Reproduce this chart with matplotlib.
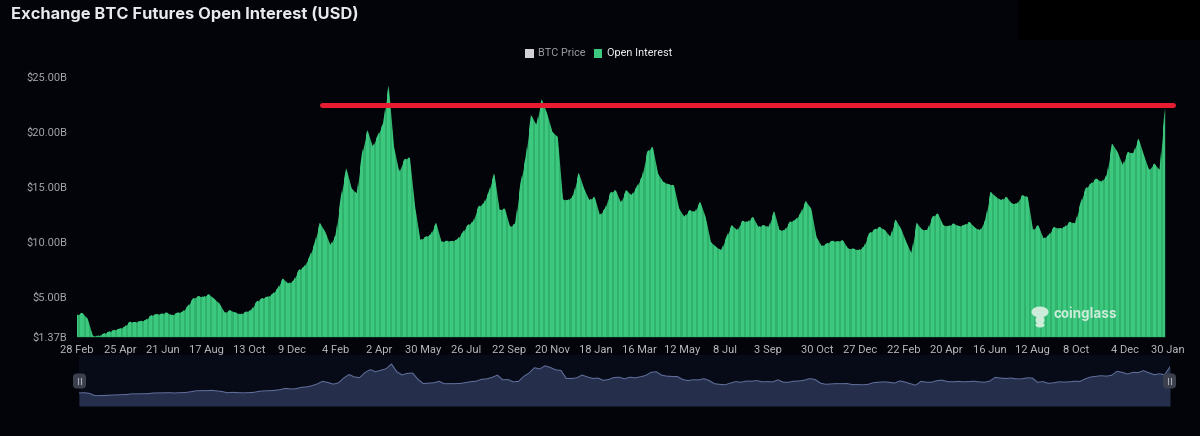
import matplotlib
matplotlib.use("Agg")
import matplotlib.pyplot as plt
from matplotlib.patches import Rectangle, FancyBboxPatch, Ellipse
import numpy as np

plt.rcParams['font.family'] = ['Roboto', 'DejaVu Sans']

W, H = 1200, 436

open_interest = [
    3.33, 3.55, 3.03, 1.45, 1.45, 1.64, 1.82, 1.97, 2.09, 2.27,
    2.73, 2.70, 2.79, 2.88, 3.30, 3.42, 3.45, 3.58, 3.33, 3.55,
    3.64, 4.15, 4.85, 5.06, 5.00, 5.24, 4.82, 4.39, 3.55, 3.79,
    3.58, 3.42, 3.64, 3.79, 4.55, 4.85, 5.00, 5.24, 5.76, 6.67,
    6.21, 6.45, 7.42, 7.73, 8.58, 9.85, 11.73, 10.91, 9.70, 10.61,
    14.09, 16.67, 14.85, 14.39, 18.03, 20.15, 18.64, 19.70, 20.76, 24.18,
    18.64, 16.36, 17.48, 17.67, 13.18, 10.15, 10.45, 10.67, 11.73, 10.00,
    10.09, 10.06, 10.21, 10.82, 11.52, 11.82, 13.18, 13.48, 14.55, 16.21,
    12.88, 13.03, 11.36, 11.67, 15.30, 17.73, 21.52, 20.61, 22.94, 21.67,
    20.00, 19.55, 13.85, 13.79, 14.24, 16.27, 14.85, 13.79, 14.09, 12.42,
    13.03, 14.45, 14.70, 13.55, 14.70, 14.24, 15.00, 15.91, 18.18, 18.64,
    16.21, 15.45, 15.24, 15.15, 13.03, 12.27, 12.88, 12.73, 13.64, 12.27,
    10.00, 9.55, 9.24, 10.45, 11.52, 11.06, 11.91, 11.82, 12.27, 11.36,
    11.52, 11.36, 12.79, 11.06, 11.06, 11.82, 11.97, 12.58, 13.70, 13.03,
    10.45, 9.61, 9.85, 10.09, 10.03, 10.15, 9.39, 9.39, 9.24, 9.55,
    10.76, 11.12, 11.36, 11.06, 10.45, 12.03, 11.21, 10.00, 8.94, 11.73,
    11.12, 11.06, 12.27, 12.58, 11.52, 11.42, 11.67, 11.42, 11.52, 11.82,
    11.30, 11.06, 11.97, 14.55, 14.09, 13.79, 14.09, 13.48, 13.48, 14.24,
    14.09, 11.06, 11.52, 10.30, 10.61, 11.36, 11.21, 11.36, 11.82, 11.67,
    13.48, 14.85, 15.30, 15.76, 15.45, 16.06, 18.94, 18.18, 16.97, 18.18,
    18.03, 19.39, 17.88, 16.52, 17.12, 16.52, 22.12,
]
y_ticks = [1.37, 5, 10, 15, 20, 25]
y_labels = ['$1.37B', '$5.00B', '$10.00B', '$15.00B', '$20.00B', '$25.00B']
x_tick_pos = [-0.44, 7.71, 15.87, 24.03, 32.18, 40.34, 48.59, 56.84, 65.0, 73.16,
              81.31, 89.66, 97.81, 105.97, 114.13, 122.28, 130.44, 139.73, 147.89,
              156.05, 164.2, 172.36, 180.52, 188.67, 197.97, 206.12]
x_labels = ['28 Feb', '25 Apr', '21 Jun', '17 Aug', '13 Oct', '9 Dec', '4 Feb', '2 Apr',
            '30 May', '26 Jul', '22 Sep', '20 Nov', '18 Jan', '16 Mar', '12 May', '8 Jul',
            '3 Sep', '30 Oct', '27 Dec', '22 Feb', '20 Apr', '16 Jun', '12 Aug', '8 Oct',
            '4 Dec', '30 Jan']
resistance_level = 22.42
resistance_span = [46.4, 207.5]

BG = '#03040A'
fig = plt.figure(figsize=(W / 100, H / 100), dpi=100, facecolor=BG)


def axes_px(l, t, r, b):
    return fig.add_axes([l / W, 1 - b / H, (r - l) / W, (b - t) / H])


# top-right masked block
fig.add_artist(Rectangle((1018 / W, 1 - 40 / H), 182 / W, 40 / H, transform=fig.transFigure,
                         facecolor='#000000', edgecolor='none'))

ax = axes_px(76.7, 76.7, 1168, 336.7)
ax.set_facecolor('none')
xs = np.arange(len(open_interest))
area = ax.fill_between(xs, open_interest, y_ticks[0], color='#30B26C', linewidth=0)
stripes = ax.bar(xs, [y_ticks[-1]] * len(xs), width=0.6, color='#3CC97F', linewidth=0)
for bar in stripes:
    bar.set_clip_path(area.get_paths()[0], area.get_transform())
ax.set_xlim(0, len(open_interest) - 1)
ax.set_ylim(y_ticks[0], y_ticks[-1])
for s in ax.spines.values():
    s.set_visible(False)
ax.set_yticks(y_ticks, y_labels, color='#A3A5AB', fontsize=8)
ax.set_xticks([p + 0.5 for p in x_tick_pos], x_labels, color='#B4B6BB', fontsize=8)
ax.tick_params(axis='both', length=0)
ax.tick_params(axis='y', pad=7)
ax.tick_params(axis='x', pad=6)
ax.plot(resistance_span, [resistance_level] * 2, color='#E81C30', lw=3.6,
        solid_capstyle='round', clip_on=False, zorder=5)

# navigator
nav = axes_px(79, 355, 1170, 406)
nav.set_facecolor('#070B18')
nav.fill_between(xs, open_interest, -6, color='#252E4B', linewidth=0)
nav.plot(xs, open_interest, color='#5F6E9A', lw=0.8)
nav.set_xlim(0, len(open_interest) - 1)
nav.set_ylim(-6, 30.7)
nav.set_xticks([])
nav.set_yticks([])
for s in nav.spines.values():
    s.set_visible(False)

overlay = fig.add_axes([0, 0, 1, 1], facecolor='none')
overlay.set_xlim(0, W)
overlay.set_ylim(H, 0)
overlay.axis('off')

# navigator handles
for hx in (79.5, 1169.5):
    overlay.add_patch(FancyBboxPatch((hx - 4.5, 375.5), 9, 11,
                                     boxstyle='round,pad=2,rounding_size=4',
                                     facecolor='#3C3F4E', edgecolor='none'))
    overlay.plot([hx - 1.3, hx - 1.3], [378, 384], color='#A8AAB3', lw=0.8)
    overlay.plot([hx + 1.3, hx + 1.3], [378, 384], color='#A8AAB3', lw=0.8)

# legend
overlay.add_patch(Rectangle((525, 49.3), 8.6, 8.6, facecolor='#D2D2D6', edgecolor='none'))
overlay.text(538, 53.4, 'BTC Price', color='#9B9DA3', fontsize=7.8, va='center', ha='left')
overlay.add_patch(Rectangle((593.6, 49.3), 8.6, 8.6, facecolor='#3CC97F', edgecolor='none'))
overlay.text(607, 53.4, 'Open Interest', color='#F2F2F4', fontsize=7.8, va='center', ha='left')

# title
overlay.text(11, 14.5, 'Exchange BTC Futures Open Interest (USD)', color='#E8E9EC',
             fontsize=11.9, fontweight='bold', family=['Inter', 'DejaVu Sans'],
             va='center', ha='left')

# watermark
WM = '#CDEBD9'
overlay.add_patch(Ellipse((1040, 312), 17, 11, facecolor=WM, edgecolor='none', zorder=6))
overlay.add_patch(Ellipse((1040, 320), 9, 9, facecolor=WM, edgecolor='none', zorder=6))
overlay.add_patch(Ellipse((1040, 325), 9, 5, facecolor=WM, edgecolor='none', zorder=6))
overlay.text(1054, 314, 'coinglass', color=WM, fontsize=9.7, fontweight='bold',
             family=['Inter', 'DejaVu Sans'], va='center', ha='left', zorder=6)

fig.savefig('out.png', dpi=100, facecolor=BG)
